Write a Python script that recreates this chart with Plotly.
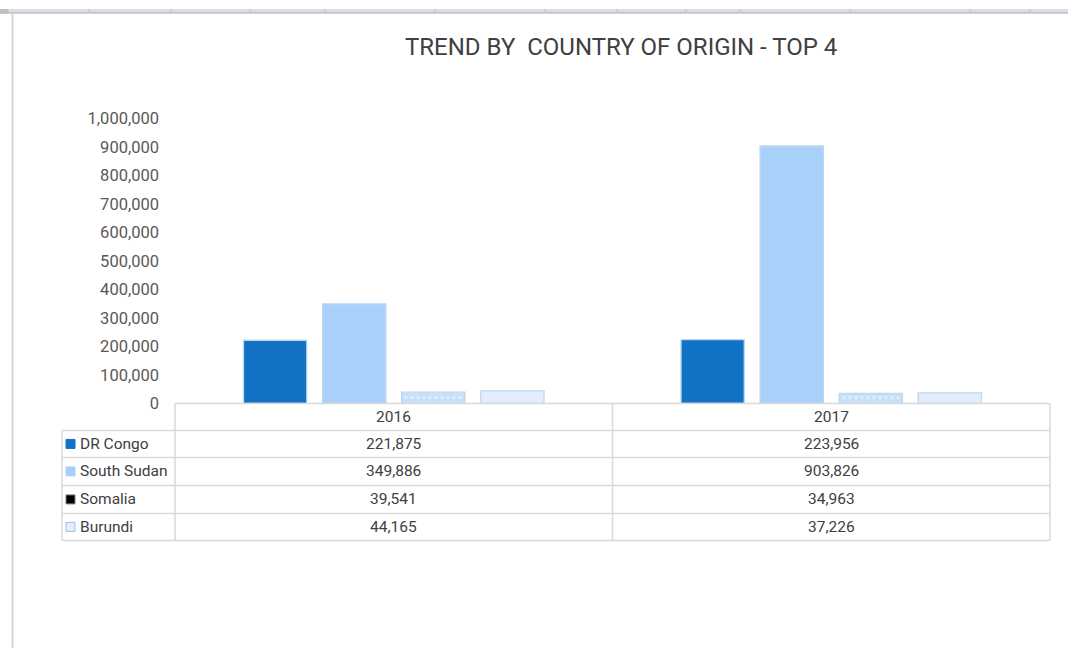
import plotly.graph_objects as go

# ---- data ----
years = ["2016", "2017"]
countries = ["DR Congo", "South Sudan", "Somalia", "Burundi"]
dr_congo = [221875, 223956]
south_sudan = [349886, 903826]
somalia = [39541, 34963]
burundi = [44165, 37226]
series_values = [dr_congo, south_sudan, somalia, burundi]
title_text = "TREND BY  COUNTRY OF ORIGIN - TOP 4"

# ---- styles ----
W, H = 1068, 658
fills = ["#1272C6", "#A9D0F8", "#C6E0FA", "#E2EEFC"]
lines = ["#BDD7EE", "#BDD7EE", "#BDD7EE", "#BDD7EE"]
key_colors = ["#1272C6", "#A9D0F8", "#000000", "#E2EEFC"]
key_lines = ["#1272C6", "#A9D0F8", "#7F7F7F", "#9DC3E6"]
grid_col = "#D9D9D9"
txt_col = "#404040"
FONT = "Roboto, Liberation Sans, sans-serif"

# vertical calibration of the capture (observed: out = 8.35 + 0.9716 * fig)
V_OFF, V_SCALE = 8.35, 0.9716


def px(x):
    return x / W


def py(y):
    fy = (y - V_OFF) / V_SCALE
    return 1 - fy / H


def pyf(fy):
    return 1 - fy / H


# layout targets in reference pixels
PL, PR, PT, PB = 175, 1050, 118, 403
TL = 62
row_edges = [403, 430, 457, 485, 513, 540]

fig = go.Figure()
for i, (name, vals) in enumerate(zip(countries, series_values)):
    marker = dict(color=fills[i], line=dict(color=lines[i], width=1.3))
    if name == "Somalia":
        marker["pattern"] = dict(shape=".", fgcolor="white", bgcolor=fills[i],
                                 size=6, solidity=0.25, fillmode="overlay")
    fig.add_trace(go.Bar(
        x=years, y=vals, name=name, marker=marker,
        showlegend=False, hoverinfo="x+y+name",
    ))

shapes = []
# background excel-ish frame (top band + left edge)
shapes.append(dict(type="rect", xref="paper", yref="paper", x0=0, x1=1, y0=pyf(3), y1=1,
                   fillcolor="#D5DEEA", line_width=0, layer="below"))
shapes.append(dict(type="rect", xref="paper", yref="paper", x0=0, x1=1, y0=pyf(5), y1=pyf(3),
                   fillcolor="#C4C4C4", line_width=0, layer="below"))
shapes.append(dict(type="rect", xref="paper", yref="paper", x0=0, x1=px(8), y0=pyf(5), y1=1,
                   fillcolor="#BFBFBF", line_width=0, layer="below"))
for sx in [8, 89, 171, 250, 325, 435, 545, 617, 686, 740, 850, 970, 1030]:
    shapes.append(dict(type="line", xref="paper", yref="paper", x0=px(sx), x1=px(sx),
                       y0=pyf(3), y1=1, line=dict(color="#B8C2CF", width=1)))
shapes.append(dict(type="line", xref="paper", yref="paper", x0=px(12.5), x1=px(12.5),
                   y0=0, y1=pyf(5), line=dict(color="#D6D6D6", width=2)))

# data table grid
mid = (PL + PR) / 2
for k, ye in enumerate(row_edges):
    x0 = PL if k == 0 else TL
    shapes.append(dict(type="line", xref="paper", yref="paper", x0=px(x0), x1=px(PR),
                       y0=py(ye), y1=py(ye), line=dict(color=grid_col, width=1.5)))
for xv, y0 in [(TL, row_edges[1]), (PL, row_edges[0]), (mid, row_edges[0]), (PR, row_edges[0])]:
    shapes.append(dict(type="line", xref="paper", yref="paper", x0=px(xv), x1=px(xv),
                       y0=py(y0), y1=py(row_edges[-1]), line=dict(color=grid_col, width=1.5)))

annotations = []
col_centers = [(PL + mid) / 2, (mid + PR) / 2]
for j, yr in enumerate(years):
    annotations.append(dict(xref="paper", yref="paper", x=px(col_centers[j]),
                            y=py((row_edges[0] + row_edges[1]) / 2), text=yr,
                            showarrow=False, xanchor="center", yanchor="middle",
                            font=dict(size=15.5, color=txt_col, family=FONT)))
for i, name in enumerate(countries):
    yc = (row_edges[i + 1] + row_edges[i + 2]) / 2
    shapes.append(dict(type="rect", xref="paper", yref="paper", x0=px(66), x1=px(75),
                       y0=py(yc + 4.5), y1=py(yc - 4.5), fillcolor=key_colors[i],
                       line=dict(color=key_lines[i], width=1)))
    annotations.append(dict(xref="paper", yref="paper", x=px(78), y=py(yc), text=name,
                            showarrow=False, xanchor="left", yanchor="middle",
                            font=dict(size=15.5, color=txt_col, family=FONT)))
    for j in range(len(years)):
        annotations.append(dict(xref="paper", yref="paper", x=px(col_centers[j]), y=py(yc),
                                text=f"{series_values[i][j]:,}", showarrow=False,
                                xanchor="center", yanchor="middle",
                                font=dict(size=15.5, color=txt_col, family=FONT)))

annotations.append(dict(xref="paper", yref="paper", x=px(621), y=py(46), text=title_text,
                        showarrow=False, xanchor="center", yanchor="middle",
                        font=dict(size=24, color=txt_col, family=FONT)))

fig.update_layout(
    width=W, height=H, autosize=False,
    margin=dict(l=0, r=0, t=0, b=0),
    paper_bgcolor="white", plot_bgcolor="rgba(0,0,0,0)",
    barmode="group", bargap=0.277, bargroupgap=0.2,
    shapes=shapes, annotations=annotations,
    xaxis=dict(domain=[px(PL), px(PR)], showticklabels=False, showgrid=False,
               zeroline=False, showline=False, ticks=""),
    yaxis=dict(domain=[py(PB), py(PT)], range=[0, 1000000], tickvals=list(range(0, 1000001, 100000)),
               tickformat=",d", showgrid=False, zeroline=False, showline=False,
               ticklabelstandoff=15, tickfont=dict(size=16.5, color="#595959", family=FONT)),
    font=dict(family=FONT),
)

post = (
    "document.documentElement.style.margin='0';"
    "document.documentElement.style.padding='0';"
    "document.documentElement.style.overflow='hidden';"
    "document.body.style.margin='0';document.body.style.padding='0';"
    "document.body.style.overflow='hidden';"
    "var gd=document.getElementById('{plot_id}');"
    "gd.style.position='fixed';gd.style.top='0px';gd.style.left='0px';"
)

fig.write_html("out.html", config={"displayModeBar": False}, post_script=post)
